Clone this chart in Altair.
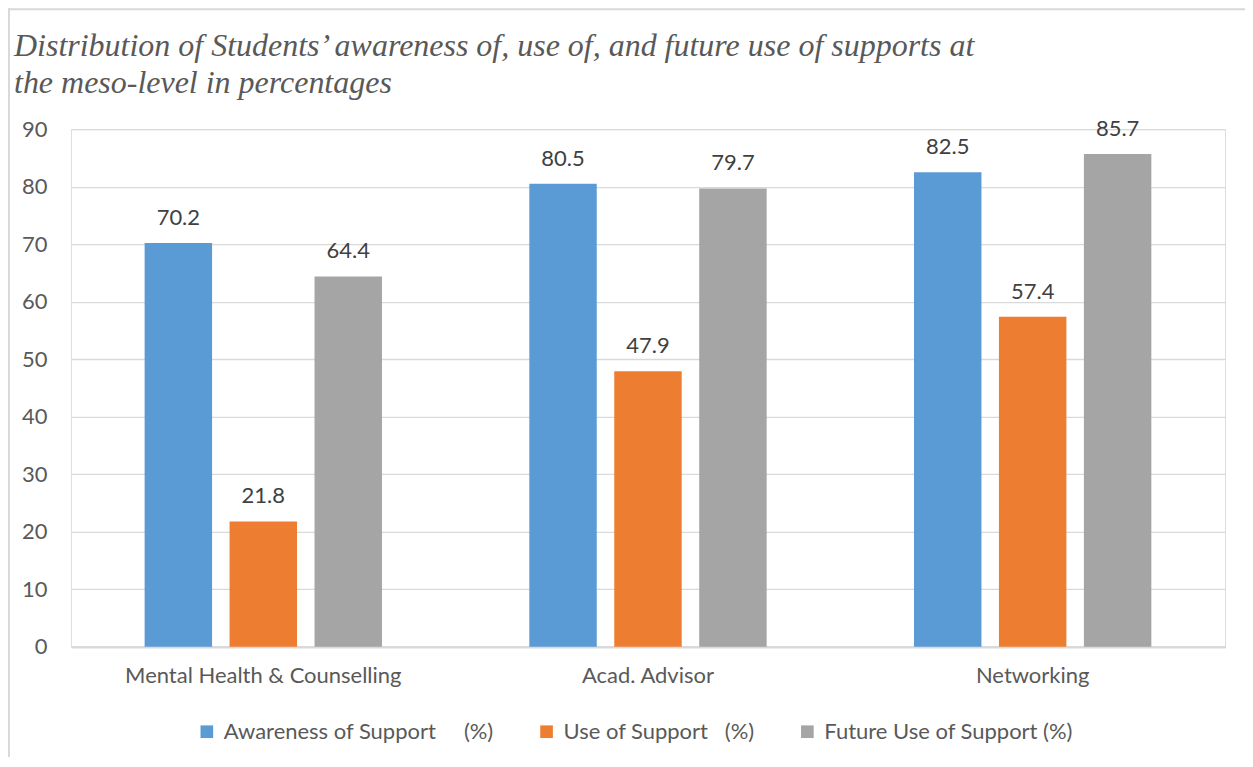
import altair as alt
import pandas as pd

categories = ["Mental Health & Counselling", "Acad. Advisor", "Networking"]
series = [
    "Awareness of Support\u00a0\u00a0\u00a0\u00a0\u00a0(%)",
    "Use of Support\u00a0\u00a0\u00a0(%)",
    "Future Use of Support (%)",
]
awareness = [70.2, 80.5, 82.5]
use_of = [21.8, 47.9, 57.4]
future_use = [64.4, 79.7, 85.7]
colors = ["#5B9BD5", "#ED7D31", "#A5A5A5"]
y_ticks = list(range(0, 91, 10))
title_text = ("Distribution of Students\u2019 awareness of, use of, and future use of supports at\n"
              "the meso-level in percentages")

rows = []
for vals, s in zip([awareness, use_of, future_use], series):
    for c, v in zip(categories, vals):
        rows.append({"category": c, "series": s, "value": v})
df = pd.DataFrame(rows)

FONT = "Lato"
FS = 22
W, H = 1155, 518

xenc = alt.X("category:N", sort=categories,
             scale=alt.Scale(paddingInner=0.383, paddingOuter=0.1915),
             axis=alt.Axis(title=None, labelAngle=0, ticks=False, domain=True,
                           domainColor="#d9d9d9", domainWidth=2.5,
                           labelFont=FONT, labelFontSize=FS, labelColor="#595959",
                           labelPadding=19, labelLimit=500, grid=False))
xoff = alt.XOffset("series:N", sort=series,
                   scale=alt.Scale(paddingInner=0.206, paddingOuter=0))

base = alt.Chart(df)

bars = base.mark_bar().encode(
    x=xenc,
    xOffset=xoff,
    y=alt.Y("value:Q", scale=alt.Scale(domain=[0, 90], nice=False),
            axis=alt.Axis(title=None, values=y_ticks, domain=False, ticks=False,
                          labelFont=FONT, labelFontSize=FS, labelColor="#595959",
                          labelPadding=24, gridColor="#d9d9d9", gridWidth=1.3)),
    color=alt.Color("series:N", sort=series,
                    scale=alt.Scale(domain=series, range=colors),
                    legend=alt.Legend(title=None, orient="none", direction="horizontal",
                                      legendX=125, legendY=592, padding=0,
                                      symbolType="square", symbolSize=160,
                                      symbolStrokeWidth=0, labelFont=FONT,
                                      labelFontSize=FS, labelColor="#595959",
                                      labelOffset=6, columnPadding=41,
                                      labelLimit=0)),
)

labels = base.mark_text(dy=-13, baseline="bottom", font=FONT, fontSize=FS,
                        color="#404040").encode(
    x=alt.X("category:N", sort=categories),
    xOffset=alt.XOffset("series:N", sort=series),
    y=alt.Y("value:Q"),
    text=alt.Text("value:Q", format=".1f"),
)

one_row = pd.DataFrame({"t": [title_text]})
title_mark = alt.Chart(one_row).mark_text(
    align="left", baseline="alphabetic", lineBreak="\n", lineHeight=37,
    font="Liberation Serif", fontStyle="italic", fontSize=32, color="#595959",
).encode(x=alt.value(-57), y=alt.value(-73), text="t:N")

left_border = alt.Chart(one_row).mark_rule(color="#d9d9d9", strokeWidth=2).encode(
    x=alt.value(-62), y=alt.value(-121), y2=alt.value(700))
top_border = alt.Chart(one_row).mark_rule(color="#d9d9d9", strokeWidth=2).encode(
    x=alt.value(-63), x2=alt.value(1200), y=alt.value(-120))

chart = alt.layer(bars, labels, title_mark, left_border, top_border).properties(
    width=W, height=H,
    padding={"left": 63, "top": 121, "right": 20, "bottom": 110},
    autosize=alt.AutoSizeParams(type="none"),
).configure_view(stroke=None).configure(background="white")

chart.save("out.html", embed_options={"renderer": "svg", "actions": False})
